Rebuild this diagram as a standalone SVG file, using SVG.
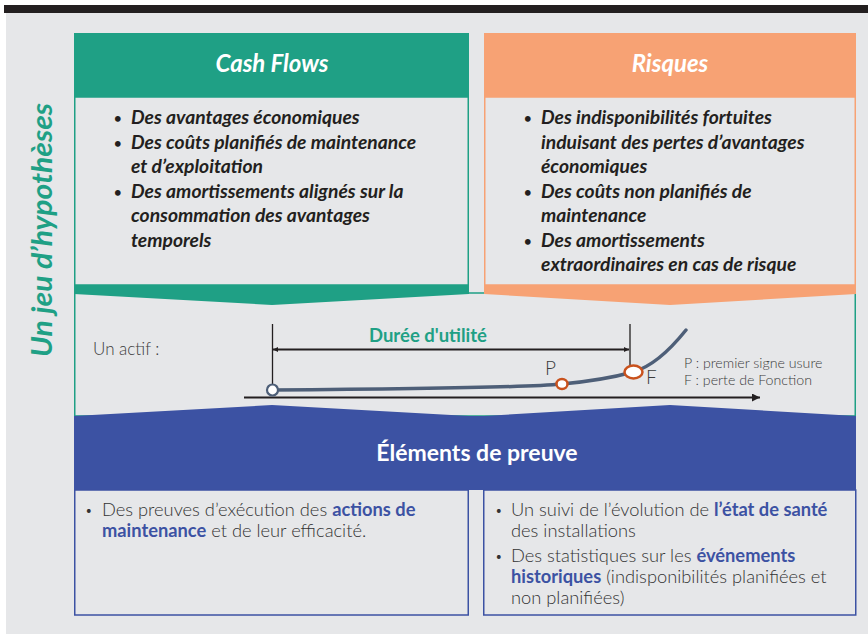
<svg xmlns="http://www.w3.org/2000/svg" width="868" height="634" viewBox="0 0 868 634">
  <defs>
    <style>
      .hdr { font-family: Lato, "Open Sans", "Liberation Sans", sans-serif; font-weight: 700; font-style: italic; font-size: 24px; fill: #ffffff; }
      .lst { font-family: Lato, "Open Sans", "Liberation Sans", sans-serif; font-weight: 700; font-style: italic; font-size: 19.3px; fill: #231f20; }
      .body { font-family: Lato, "Open Sans", "Liberation Sans", sans-serif; font-weight: 300; font-size: 18.3px; fill: #333333; }
      .em { font-weight: 700; fill: #3c52a3; }
      .dot { font-size: 13px; font-style: normal; }
      .lbl { font-family: Lato, "Open Sans", "Liberation Sans", sans-serif; font-weight: 300; fill: #3c3c3c; }
      .green-box { fill: none; stroke: #1fa085; stroke-width: 1.5; }
      .orange-box { fill: none; stroke: #f7a274; stroke-width: 1.5; }
      .blue-box { fill: none; stroke: #3c52a3; stroke-width: 1.5; }
    </style>
    <marker id="arrow-small" viewBox="0 0 10 10" refX="10" refY="5" markerWidth="8" markerHeight="5" markerUnits="userSpaceOnUse" orient="auto-start-reverse">
      <path d="M0,0 L10,5 L0,10 Z" fill="#231f20"/>
    </marker>
    <marker id="arrow-axis" viewBox="0 0 10 10" refX="10" refY="5" markerWidth="11" markerHeight="8" markerUnits="userSpaceOnUse" orient="auto">
      <path d="M0,0 L10,5 L0,10 Z" fill="#231f20"/>
    </marker>
  </defs>

  <!-- page frame -->
  <rect x="4" y="5" width="864" height="8" fill="#231f20"/>
  <rect x="6" y="13" width="862" height="621" fill="#e6e7e9"/>

  <!-- side title -->
  <text transform="translate(52,230) rotate(-90)" text-anchor="middle" font-family="Lato, 'Open Sans', 'Liberation Sans', sans-serif" font-weight="700" font-style="italic" font-size="28" fill="#1fa085" textLength="254" lengthAdjust="spacingAndGlyphs">Un jeu d’hypothèses</text>

  <!-- middle band: the asset life curve -->
  <g id="asset">
    <rect class="green-box" x="74.75" y="293" width="780.5" height="123"/>
    <text class="lbl" x="93" y="355" font-size="17">Un actif :</text>
    <line x1="272.5" y1="324" x2="272.5" y2="384" stroke="#231f20" stroke-width="1.3"/>
    <line x1="630" y1="324" x2="630" y2="366" stroke="#231f20" stroke-width="1.3"/>
    <text x="428" y="342" text-anchor="middle" font-family="Lato, 'Open Sans', 'Liberation Sans', sans-serif" font-weight="700" font-size="18.5" fill="#1fa085">Durée d'utilité</text>
    <text class="lbl" x="545" y="375" font-size="19">P</text>
    <text class="lbl" x="646" y="384" font-size="19">F</text>
    <text class="lbl" x="684" y="368" font-size="14.2">P : premier signe usure</text>
    <text class="lbl" x="684" y="385" font-size="14.2">F : perte de Fonction</text>
  </g>

  <g id="connectors">
    <line x1="273" y1="349.5" x2="629" y2="349.5" stroke="#231f20" stroke-width="2" marker-start="url(#arrow-small)" marker-end="url(#arrow-small)"/>
    <line x1="244" y1="397.5" x2="760" y2="397.5" stroke="#231f20" stroke-width="2" marker-end="url(#arrow-axis)"/>
    <path d="M272,390 C420,389 530,387 562,384 S615,377 633,372 S670,350 686,330" fill="none" stroke="#4e5f78" stroke-width="3.5" stroke-linecap="round"/>
    <circle cx="272.5" cy="390" r="5.5" fill="#ffffff" stroke="#4e5f78" stroke-width="2.2"/>
    <ellipse cx="562" cy="384" rx="5.5" ry="5" fill="#ffffff" stroke="#c9521d" stroke-width="2.5"/>
    <ellipse cx="633.5" cy="372" rx="9" ry="6.5" fill="#ffffff" stroke="#c9521d" stroke-width="2.5"/>
  </g>

  <!-- Cash Flows -->
  <g id="cash-flows">
    <rect x="74" y="33" width="395" height="64" fill="#1fa085"/>
    <rect x="74" y="97" width="395" height="188" fill="#e6e7e9"/>
    <rect class="green-box" x="74.75" y="97" width="393.5" height="188"/>
    <polygon points="74,285 469,285 469,294 272,305 74,294" fill="#1fa085"/>
    <text class="hdr" x="272" y="72" text-anchor="middle">Cash Flows</text>
    <text class="lst">
      <tspan class="dot" x="114" y="123">•</tspan><tspan x="131" y="124">Des avantages économiques</tspan>
      <tspan class="dot" x="114" y="148">•</tspan><tspan x="131" y="149">Des coûts planifiés de maintenance</tspan>
      <tspan x="131" y="173">et d’exploitation</tspan>
      <tspan class="dot" x="114" y="197">•</tspan><tspan x="131" y="198">Des amortissements alignés sur la</tspan>
      <tspan x="131" y="222">consommation des avantages</tspan>
      <tspan x="131" y="247">temporels</tspan>
    </text>
  </g>

  <!-- Risques -->
  <g id="risques">
    <rect x="484" y="33" width="372" height="64" fill="#f7a274"/>
    <rect x="484" y="97" width="372" height="188" fill="#e6e7e9"/>
    <rect class="orange-box" x="484.75" y="97" width="370.5" height="188"/>
    <polygon points="484,285 856,285 856,294 670,305 484,294" fill="#f7a274"/>
    <text class="hdr" x="670" y="72" text-anchor="middle">Risques</text>
    <text class="lst">
      <tspan class="dot" x="524" y="123">•</tspan><tspan x="541" y="124">Des indisponibilités fortuites</tspan>
      <tspan x="541" y="149">induisant des pertes d’avantages</tspan>
      <tspan x="541" y="173">économiques</tspan>
      <tspan class="dot" x="524" y="197">•</tspan><tspan x="541" y="198">Des coûts non planifiés de</tspan>
      <tspan x="541" y="222">maintenance</tspan>
      <tspan class="dot" x="524" y="246">•</tspan><tspan x="541" y="247">Des amortissements</tspan>
      <tspan x="541" y="271">extraordinaires en cas de risque</tspan>
    </text>
  </g>

  <!-- Éléments de preuve -->
  <g id="preuve-header">
    <polygon points="74,416 272,405 469,416 484,416 670,405 856,416 856,490 74,490" fill="#3c52a3"/>
    <text x="477" y="461" text-anchor="middle" font-family="Lato, 'Open Sans', 'Liberation Sans', sans-serif" font-weight="700" font-size="23" fill="#ffffff">Éléments de preuve</text>
  </g>

  <g id="preuve-maintenance">
    <rect class="blue-box" x="74.75" y="490" width="393.5" height="125"/>
    <text class="body">
      <tspan class="dot" x="85" y="515">•</tspan><tspan x="102" y="516">Des preuves d’exécution des <tspan class="em">actions de</tspan></tspan>
      <tspan x="102" y="537"><tspan class="em">maintenance</tspan> et de leur efficacité.</tspan>
    </text>
  </g>

  <g id="preuve-etat">
    <rect class="blue-box" x="483.75" y="490" width="372" height="125"/>
    <text class="body">
      <tspan class="dot" x="495" y="515">•</tspan><tspan x="511" y="516">Un suivi de l’évolution de <tspan class="em">l’état de santé</tspan></tspan>
      <tspan x="511" y="537">des installations</tspan>
      <tspan class="dot" x="495" y="561">•</tspan><tspan x="511" y="562">Des statistiques sur les <tspan class="em">événements</tspan></tspan>
      <tspan x="511" y="583"><tspan class="em">historiques</tspan> (indisponibilités planifiées et</tspan>
      <tspan x="511" y="604">non planifiées)</tspan>
    </text>
  </g>
</svg>
